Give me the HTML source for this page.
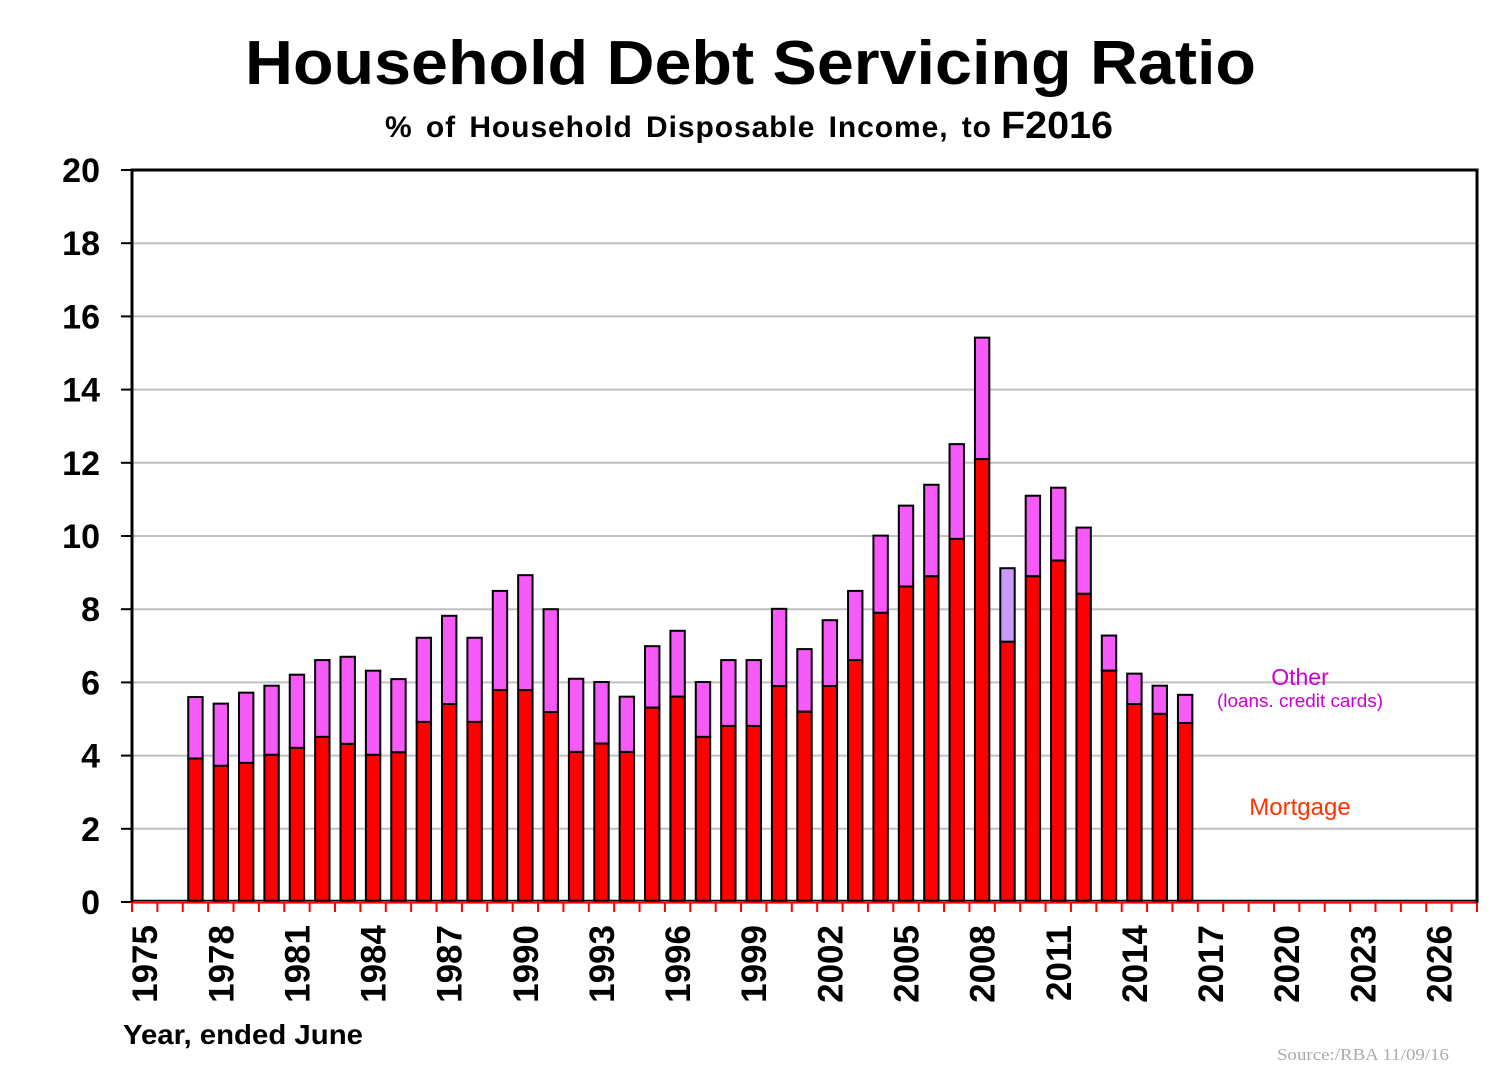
<!DOCTYPE html>
<html>
<head>
<meta charset="utf-8">
<style>
html,body{margin:0;padding:0;background:#fff;}
svg{display:block;}
text{font-family:"Liberation Sans",Arial,sans-serif;}
</style>
</head>
<body>
<svg width="1500" height="1077" viewBox="0 0 1500 1077" xmlns="http://www.w3.org/2000/svg">
<rect width="1500" height="1077" fill="#fff"/>

<!-- Titles -->
<text x="245" y="84" font-size="62" font-weight="bold" textLength="1011" lengthAdjust="spacingAndGlyphs">Household Debt Servicing Ratio</text>
<text x="385" y="137" font-size="30" font-weight="bold" textLength="606" lengthAdjust="spacing" word-spacing="4">% of Household Disposable Income, to</text>
<text x="1001" y="138" font-size="38" font-weight="bold" textLength="112" lengthAdjust="spacingAndGlyphs">F2016</text>

<!-- Gridlines -->
<g stroke="#c0c0c0" stroke-width="2">
<line x1="132" y1="828.8" x2="1476" y2="828.8"/>
<line x1="132" y1="755.6" x2="1476" y2="755.6"/>
<line x1="132" y1="682.4" x2="1476" y2="682.4"/>
<line x1="132" y1="609.2" x2="1476" y2="609.2"/>
<line x1="132" y1="536" x2="1476" y2="536"/>
<line x1="132" y1="462.8" x2="1476" y2="462.8"/>
<line x1="132" y1="389.6" x2="1476" y2="389.6"/>
<line x1="132" y1="316.4" x2="1476" y2="316.4"/>
<line x1="132" y1="243.2" x2="1476" y2="243.2"/>
</g>

<!-- Y ticks -->
<g stroke="#000" stroke-width="2">
<line x1="121" y1="902" x2="132" y2="902"/>
<line x1="121" y1="828.8" x2="132" y2="828.8"/>
<line x1="121" y1="755.6" x2="132" y2="755.6"/>
<line x1="121" y1="682.4" x2="132" y2="682.4"/>
<line x1="121" y1="609.2" x2="132" y2="609.2"/>
<line x1="121" y1="536" x2="132" y2="536"/>
<line x1="121" y1="462.8" x2="132" y2="462.8"/>
<line x1="121" y1="389.6" x2="132" y2="389.6"/>
<line x1="121" y1="316.4" x2="132" y2="316.4"/>
<line x1="121" y1="243.2" x2="132" y2="243.2"/>
<line x1="121" y1="170" x2="132" y2="170"/>
</g>

<!-- Y labels -->
<g font-size="34" font-weight="bold" text-anchor="end">
<text x="100" y="914">0</text>
<text x="100" y="840.8">2</text>
<text x="100" y="767.6">4</text>
<text x="100" y="694.4">6</text>
<text x="100" y="621.2">8</text>
<text x="100" y="548">10</text>
<text x="100" y="474.8">12</text>
<text x="100" y="401.6">14</text>
<text x="100" y="328.4">16</text>
<text x="100" y="255.2">18</text>
<text x="100" y="182">20</text>
</g>

<!-- Bars -->
<g stroke="#000" stroke-width="2">
<rect x="188.24" y="697.04" width="14.4" height="61.49" fill="#f65af9"/><rect x="188.24" y="758.53" width="14.4" height="143.47" fill="#ff0000"/>
<rect x="213.62" y="703.63" width="14.4" height="62.22" fill="#f65af9"/><rect x="213.62" y="765.85" width="14.4" height="136.15" fill="#ff0000"/>
<rect x="239.0" y="692.65" width="14.4" height="70.27" fill="#f65af9"/><rect x="239.0" y="762.92" width="14.4" height="139.08" fill="#ff0000"/>
<rect x="264.37" y="685.69" width="14.4" height="69.18" fill="#f65af9"/><rect x="264.37" y="754.87" width="14.4" height="147.13" fill="#ff0000"/>
<rect x="289.75" y="674.71" width="14.4" height="73.2" fill="#f65af9"/><rect x="289.75" y="747.91" width="14.4" height="154.09" fill="#ff0000"/>
<rect x="315.13" y="660.07" width="14.4" height="76.86" fill="#f65af9"/><rect x="315.13" y="736.93" width="14.4" height="165.07" fill="#ff0000"/>
<rect x="340.51" y="656.78" width="14.4" height="87.11" fill="#f65af9"/><rect x="340.51" y="743.89" width="14.4" height="158.11" fill="#ff0000"/>
<rect x="365.88" y="670.69" width="14.4" height="84.18" fill="#f65af9"/><rect x="365.88" y="754.87" width="14.4" height="147.13" fill="#ff0000"/>
<rect x="391.26" y="679.11" width="14.4" height="73.2" fill="#f65af9"/><rect x="391.26" y="752.31" width="14.4" height="149.69" fill="#ff0000"/>
<rect x="416.64" y="637.75" width="14.4" height="84.18" fill="#f65af9"/><rect x="416.64" y="721.93" width="14.4" height="180.07" fill="#ff0000"/>
<rect x="442.01" y="615.79" width="14.4" height="88.2" fill="#f65af9"/><rect x="442.01" y="703.99" width="14.4" height="198.01" fill="#ff0000"/>
<rect x="467.39" y="637.75" width="14.4" height="84.18" fill="#f65af9"/><rect x="467.39" y="721.93" width="14.4" height="180.07" fill="#ff0000"/>
<rect x="492.77" y="590.9" width="14.4" height="99.19" fill="#f65af9"/><rect x="492.77" y="690.09" width="14.4" height="211.91" fill="#ff0000"/>
<rect x="518.15" y="575.16" width="14.4" height="114.93" fill="#f65af9"/><rect x="518.15" y="690.09" width="14.4" height="211.91" fill="#ff0000"/>
<rect x="543.52" y="609.2" width="14.4" height="102.85" fill="#f65af9"/><rect x="543.52" y="712.05" width="14.4" height="189.95" fill="#ff0000"/>
<rect x="568.9" y="678.74" width="14.4" height="73.2" fill="#f65af9"/><rect x="568.9" y="751.94" width="14.4" height="150.06" fill="#ff0000"/>
<rect x="594.28" y="682.03" width="14.4" height="61.49" fill="#f65af9"/><rect x="594.28" y="743.52" width="14.4" height="158.48" fill="#ff0000"/>
<rect x="619.65" y="696.67" width="14.4" height="55.27" fill="#f65af9"/><rect x="619.65" y="751.94" width="14.4" height="150.06" fill="#ff0000"/>
<rect x="645.03" y="646.17" width="14.4" height="61.48" fill="#f65af9"/><rect x="645.03" y="707.65" width="14.4" height="194.35" fill="#ff0000"/>
<rect x="670.41" y="630.79" width="14.4" height="65.88" fill="#f65af9"/><rect x="670.41" y="696.67" width="14.4" height="205.33" fill="#ff0000"/>
<rect x="695.78" y="682.03" width="14.4" height="54.9" fill="#f65af9"/><rect x="695.78" y="736.93" width="14.4" height="165.07" fill="#ff0000"/>
<rect x="721.16" y="660.07" width="14.4" height="65.88" fill="#f65af9"/><rect x="721.16" y="725.95" width="14.4" height="176.05" fill="#ff0000"/>
<rect x="746.54" y="660.07" width="14.4" height="65.88" fill="#f65af9"/><rect x="746.54" y="725.95" width="14.4" height="176.05" fill="#ff0000"/>
<rect x="771.92" y="608.83" width="14.4" height="77.23" fill="#f65af9"/><rect x="771.92" y="686.06" width="14.4" height="215.94" fill="#ff0000"/>
<rect x="797.29" y="649.09" width="14.4" height="62.59" fill="#f65af9"/><rect x="797.29" y="711.68" width="14.4" height="190.32" fill="#ff0000"/>
<rect x="822.67" y="620.18" width="14.4" height="65.88" fill="#f65af9"/><rect x="822.67" y="686.06" width="14.4" height="215.94" fill="#ff0000"/>
<rect x="848.05" y="590.9" width="14.4" height="69.17" fill="#f65af9"/><rect x="848.05" y="660.07" width="14.4" height="241.93" fill="#ff0000"/>
<rect x="873.42" y="535.63" width="14.4" height="77.23" fill="#f65af9"/><rect x="873.42" y="612.86" width="14.4" height="289.14" fill="#ff0000"/>
<rect x="898.8" y="505.62" width="14.4" height="80.89" fill="#f65af9"/><rect x="898.8" y="586.51" width="14.4" height="315.49" fill="#ff0000"/>
<rect x="924.18" y="484.76" width="14.4" height="91.5" fill="#f65af9"/><rect x="924.18" y="576.26" width="14.4" height="325.74" fill="#ff0000"/>
<rect x="949.55" y="444.13" width="14.4" height="94.8" fill="#f65af9"/><rect x="949.55" y="538.93" width="14.4" height="363.07" fill="#ff0000"/>
<rect x="974.93" y="337.63" width="14.4" height="121.51" fill="#f65af9"/><rect x="974.93" y="459.14" width="14.4" height="442.86" fill="#ff0000"/>
<rect x="1000.31" y="568.21" width="14.4" height="73.56" fill="#cc99ff"/><rect x="1000.31" y="641.77" width="14.4" height="260.23" fill="#ff0000"/>
<rect x="1025.69" y="495.74" width="14.4" height="80.52" fill="#f65af9"/><rect x="1025.69" y="576.26" width="14.4" height="325.74" fill="#ff0000"/>
<rect x="1051.06" y="487.69" width="14.4" height="72.83" fill="#f65af9"/><rect x="1051.06" y="560.52" width="14.4" height="341.48" fill="#ff0000"/>
<rect x="1076.44" y="527.58" width="14.4" height="66.25" fill="#f65af9"/><rect x="1076.44" y="593.83" width="14.4" height="308.17" fill="#ff0000"/>
<rect x="1101.82" y="635.55" width="14.4" height="35.14" fill="#f65af9"/><rect x="1101.82" y="670.69" width="14.4" height="231.31" fill="#ff0000"/>
<rect x="1127.19" y="673.62" width="14.4" height="30.37" fill="#f65af9"/><rect x="1127.19" y="703.99" width="14.4" height="198.01" fill="#ff0000"/>
<rect x="1152.57" y="685.69" width="14.4" height="28.19" fill="#f65af9"/><rect x="1152.57" y="713.88" width="14.4" height="188.12" fill="#ff0000"/>
<rect x="1177.95" y="694.84" width="14.4" height="28.19" fill="#f65af9"/><rect x="1177.95" y="723.03" width="14.4" height="178.97" fill="#ff0000"/>
</g>

<!-- baseline (zero bars) -->
<line x1="132" y1="900.6" x2="1477" y2="900.6" stroke="#000" stroke-width="1.6"/>
<!-- red x axis -->
<line x1="132" y1="902.6" x2="1477" y2="902.6" stroke="#ff0000" stroke-width="2"/>
<path stroke="#ff0000" stroke-width="2" fill="none" d="M132 902V912M157.38 902V912M182.75 902V912M208.13 902V912M233.51 902V912M258.89 902V912M284.26 902V912M309.64 902V912M335.02 902V912M360.39 902V912M385.77 902V912M411.15 902V912M436.52 902V912M461.9 902V912M487.28 902V912M512.66 902V912M538.03 902V912M563.41 902V912M588.79 902V912M614.16 902V912M639.54 902V912M664.92 902V912M690.29 902V912M715.67 902V912M741.05 902V912M766.43 902V912M791.8 902V912M817.18 902V912M842.56 902V912M867.93 902V912M893.31 902V912M918.69 902V912M944.06 902V912M969.44 902V912M994.82 902V912M1020.2 902V912M1045.57 902V912M1070.95 902V912M1096.33 902V912M1121.7 902V912M1147.08 902V912M1172.46 902V912M1197.83 902V912M1223.21 902V912M1248.59 902V912M1273.97 902V912M1299.34 902V912M1324.72 902V912M1350.1 902V912M1375.47 902V912M1400.85 902V912M1426.23 902V912M1451.6 902V912M1476.98 902V912"/>

<!-- frame: left, top, right -->
<line x1="132" y1="168.5" x2="132" y2="902" stroke="#000" stroke-width="3"/>
<line x1="130.5" y1="170" x2="1478.5" y2="170" stroke="#000" stroke-width="3"/>
<line x1="1477" y1="168.5" x2="1477" y2="903" stroke="#000" stroke-width="3"/>

<!-- X labels -->
<g font-size="35" font-weight="bold" text-anchor="end">
<text transform="translate(157.2,925) rotate(-90)">1975</text>
<text transform="translate(233.3,925) rotate(-90)">1978</text>
<text transform="translate(309.5,925) rotate(-90)">1981</text>
<text transform="translate(385.6,925) rotate(-90)">1984</text>
<text transform="translate(461.7,925) rotate(-90)">1987</text>
<text transform="translate(537.9,925) rotate(-90)">1990</text>
<text transform="translate(614.0,925) rotate(-90)">1993</text>
<text transform="translate(690.1,925) rotate(-90)">1996</text>
<text transform="translate(766.2,925) rotate(-90)">1999</text>
<text transform="translate(842.4,925) rotate(-90)">2002</text>
<text transform="translate(918.5,925) rotate(-90)">2005</text>
<text transform="translate(994.6,925) rotate(-90)">2008</text>
<text transform="translate(1070.8,925) rotate(-90)">2011</text>
<text transform="translate(1146.9,925) rotate(-90)">2014</text>
<text transform="translate(1223.0,925) rotate(-90)">2017</text>
<text transform="translate(1299.2,925) rotate(-90)">2020</text>
<text transform="translate(1375.3,925) rotate(-90)">2023</text>
<text transform="translate(1451.4,925) rotate(-90)">2026</text>
</g>

<text x="123" y="1044" font-size="28" font-weight="bold" textLength="240" lengthAdjust="spacingAndGlyphs">Year, ended June</text>

<!-- Annotations -->
<text x="1300" y="685" font-size="23" fill="#cc00cc" text-anchor="middle">Other</text>
<text x="1300" y="707" font-size="18" fill="#cc00cc" text-anchor="middle" textLength="166" lengthAdjust="spacingAndGlyphs">(loans. credit cards)</text>
<text x="1300" y="815" font-size="24" fill="#ff3300" text-anchor="middle">Mortgage</text>

<text x="1277" y="1060" font-size="17" fill="#aaaaaa" style="font-family:'Liberation Serif',serif" textLength="172" lengthAdjust="spacingAndGlyphs">Source:/RBA  11/09/16</text>
</svg>
</body>
</html>
